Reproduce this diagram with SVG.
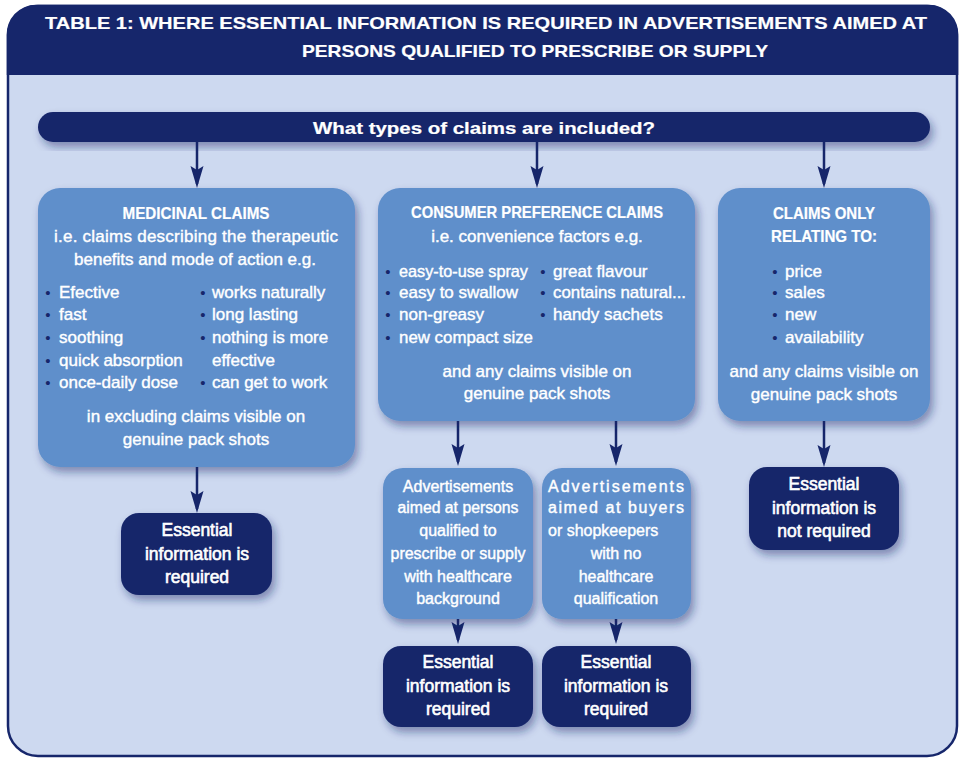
<svg xmlns="http://www.w3.org/2000/svg" width="960" height="758" viewBox="0 0 960 758">
<defs>
<style>
.t{font-family:"Liberation Sans",Arial,sans-serif;fill:#fff;font-size:17px;stroke:#fff;stroke-width:0.4px}
.b{font-weight:bold;stroke-width:0.2px}
.c{text-anchor:middle}
.h{font-size:16px;font-weight:bold;text-anchor:middle;stroke-width:0.2px}
.s{font-size:16px}
.e{font-size:17.5px;text-anchor:middle;stroke-width:0.6px}
.d{font-family:"Liberation Sans",Arial,sans-serif;fill:#16266b;font-size:15px;text-anchor:middle}
.box{fill:#5f8fcb;filter:url(#sh)}
.dark{fill:#16266b;filter:url(#sh)}
.con{stroke:#16266b;stroke-width:2.5;fill:none;marker-end:url(#ah)}
</style>
<filter id="sh" x="-20%" y="-20%" width="140%" height="150%">
<feDropShadow dx="3" dy="5" stdDeviation="4" flood-color="#1a2466" flood-opacity="0.45"/>
</filter>
<marker id="ah" viewBox="0 0 22 14" refX="18" refY="7" markerWidth="22" markerHeight="14" markerUnits="userSpaceOnUse" orient="auto">
<path d="M0,0.5 L22,7 L0,13.5 L4,7 Z" fill="#16266b"/>
</marker>
</defs>

<g id="frame">
<rect x="8" y="6" width="949" height="750" rx="30" fill="#cdd9f0" stroke="#16266b" stroke-width="2.5"/>
<path d="M6.75,75 L6.75,36 A29.25,29.25 0 0 1 36,4.75 L929,4.75 A29.25,29.25 0 0 1 958.25,36 L958.25,75 Z" fill="#16266b"/>
<text class="t b" x="45" y="29" font-size="20.5" textLength="882" lengthAdjust="spacingAndGlyphs">TABLE 1: WHERE ESSENTIAL INFORMATION IS REQUIRED IN ADVERTISEMENTS AIMED AT</text>
<text class="t b" x="302" y="57" font-size="20.5" textLength="466" lengthAdjust="spacingAndGlyphs">PERSONS QUALIFIED TO PRESCRIBE OR SUPPLY</text>
</g>

<g id="question">
<rect class="dark" x="38" y="112" width="892" height="30" rx="15"/>
<text class="t b c" x="484" y="134" font-size="20.5" textLength="342" lengthAdjust="spacingAndGlyphs">What types of claims are included?</text>
</g>

<g id="connectors">
<line class="con" x1="197" y1="142" x2="197" y2="184"/>
<line class="con" x1="537" y1="142" x2="537" y2="184"/>
<line class="con" x1="824" y1="142" x2="824" y2="184"/>
<line class="con" x1="197" y1="467" x2="197" y2="509"/>
<line class="con" x1="458" y1="421" x2="458" y2="462"/>
<line class="con" x1="616" y1="421" x2="616" y2="462"/>
<line class="con" x1="824" y1="421" x2="824" y2="463"/>
<line class="con" x1="458" y1="619" x2="458" y2="640"/>
<line class="con" x1="616" y1="619" x2="616" y2="640"/>
</g>

<g id="medicinal">
<rect class="box" x="38" y="188" width="317" height="279" rx="22"/>
<text class="t h" x="196" y="219" textLength="147" lengthAdjust="spacingAndGlyphs">MEDICINAL CLAIMS</text>
<text class="t c" x="196" y="242" textLength="284">i.e. claims describing the therapeutic</text>
<text class="t c" x="195" y="265">benefits and mode of action e.g.</text>
<text class="d" x="48" y="298">•</text><text class="t" x="59" y="298">Efective</text>
<text class="d" x="48" y="320">•</text><text class="t" x="59" y="320">fast</text>
<text class="d" x="48" y="343">•</text><text class="t" x="59" y="343">soothing</text>
<text class="d" x="48" y="366">•</text><text class="t" x="59" y="366">quick absorption</text>
<text class="d" x="48" y="388">•</text><text class="t" x="59" y="388">once-daily dose</text>
<text class="d" x="203" y="298">•</text><text class="t" x="212" y="298">works naturally</text>
<text class="d" x="203" y="320">•</text><text class="t" x="212" y="320">long lasting</text>
<text class="d" x="203" y="343">•</text><text class="t" x="212" y="343">nothing is more</text>
<text class="t" x="212" y="366">effective</text>
<text class="d" x="203" y="388">•</text><text class="t" x="212" y="388">can get to work</text>
<text class="t c" x="196" y="422">in excluding claims visible on</text>
<text class="t c" x="196" y="445">genuine pack shots</text>
</g>

<g id="consumer">
<rect class="box" x="378" y="188" width="317" height="233" rx="22"/>
<text class="t h" x="537" y="218" textLength="252" lengthAdjust="spacingAndGlyphs">CONSUMER PREFERENCE CLAIMS</text>
<text class="t c" x="537" y="242">i.e. convenience factors e.g.</text>
<text class="d" x="388" y="277">•</text><text class="t" x="399" y="277" textLength="129" lengthAdjust="spacingAndGlyphs">easy-to-use spray</text>
<text class="d" x="388" y="298">•</text><text class="t" x="399" y="298">easy to swallow</text>
<text class="d" x="388" y="320">•</text><text class="t" x="399" y="320">non-greasy</text>
<text class="d" x="388" y="343">•</text><text class="t" x="399" y="343" textLength="134" lengthAdjust="spacingAndGlyphs">new compact size</text>
<text class="d" x="543" y="277">•</text><text class="t" x="553" y="277">great flavour</text>
<text class="d" x="543" y="298">•</text><text class="t" x="553" y="298" textLength="133" lengthAdjust="spacingAndGlyphs">contains natural...</text>
<text class="d" x="543" y="320">•</text><text class="t" x="553" y="320">handy sachets</text>
<text class="t c" x="537" y="377">and any claims visible on</text>
<text class="t c" x="537" y="399">genuine pack shots</text>
</g>

<g id="claims-only">
<rect class="box" x="718" y="188" width="212" height="233" rx="22"/>
<text class="t h" x="824" y="219" textLength="102" lengthAdjust="spacingAndGlyphs">CLAIMS ONLY</text>
<text class="t h" x="824" y="242" textLength="106" lengthAdjust="spacingAndGlyphs">RELATING TO:</text>
<text class="d" x="775" y="277">•</text><text class="t" x="785" y="277">price</text>
<text class="d" x="775" y="298">•</text><text class="t" x="785" y="298">sales</text>
<text class="d" x="775" y="320">•</text><text class="t" x="785" y="320">new</text>
<text class="d" x="775" y="343">•</text><text class="t" x="785" y="343">availability</text>
<text class="t c" x="824" y="377">and any claims visible on</text>
<text class="t c" x="824" y="400">genuine pack shots</text>
</g>

<g id="ess-medicinal">
<rect class="dark" x="121" y="513" width="151" height="82" rx="18"/>
<text class="t e" x="197" y="536">Essential</text>
<text class="t e" x="197" y="560">information is</text>
<text class="t e" x="197" y="583">required</text>
</g>

<g id="ads-qualified">
<rect class="box" x="383" y="468" width="150" height="151" rx="20"/>
<text class="t s c" x="458" y="492">Advertisements</text>
<text class="t s c" x="458" y="513" textLength="121" lengthAdjust="spacingAndGlyphs">aimed at persons</text>
<text class="t s c" x="458" y="536">qualified to</text>
<text class="t s c" x="458" y="559" textLength="135" lengthAdjust="spacingAndGlyphs">prescribe or supply</text>
<text class="t s c" x="458" y="582">with healthcare</text>
<text class="t s c" x="458" y="604">background</text>
</g>

<g id="ads-buyers">
<rect class="box" x="542" y="468" width="149" height="151" rx="20"/>
<text class="t s" x="548" y="492" textLength="136" lengthAdjust="spacing">Advertisements</text>
<text class="t s" x="548" y="513" textLength="136" lengthAdjust="spacing">aimed  at  buyers</text>
<text class="t s" x="548" y="536">or shopkeepers</text>
<text class="t s c" x="616" y="559">with no</text>
<text class="t s c" x="616" y="582">healthcare</text>
<text class="t s c" x="616" y="604">qualification</text>
</g>

<g id="ess-qualified">
<rect class="dark" x="383" y="646" width="150" height="81" rx="18"/>
<text class="t e" x="458" y="668">Essential</text>
<text class="t e" x="458" y="692">information is</text>
<text class="t e" x="458" y="715">required</text>
</g>

<g id="ess-buyers">
<rect class="dark" x="542" y="646" width="149" height="81" rx="18"/>
<text class="t e" x="616" y="668">Essential</text>
<text class="t e" x="616" y="692">information is</text>
<text class="t e" x="616" y="715">required</text>
</g>

<g id="ess-not">
<rect class="dark" x="749" y="467" width="150" height="83" rx="18"/>
<text class="t e" x="824" y="490">Essential</text>
<text class="t e" x="824" y="514">information is</text>
<text class="t e" x="824" y="537">not required</text>
</g>
</svg>
